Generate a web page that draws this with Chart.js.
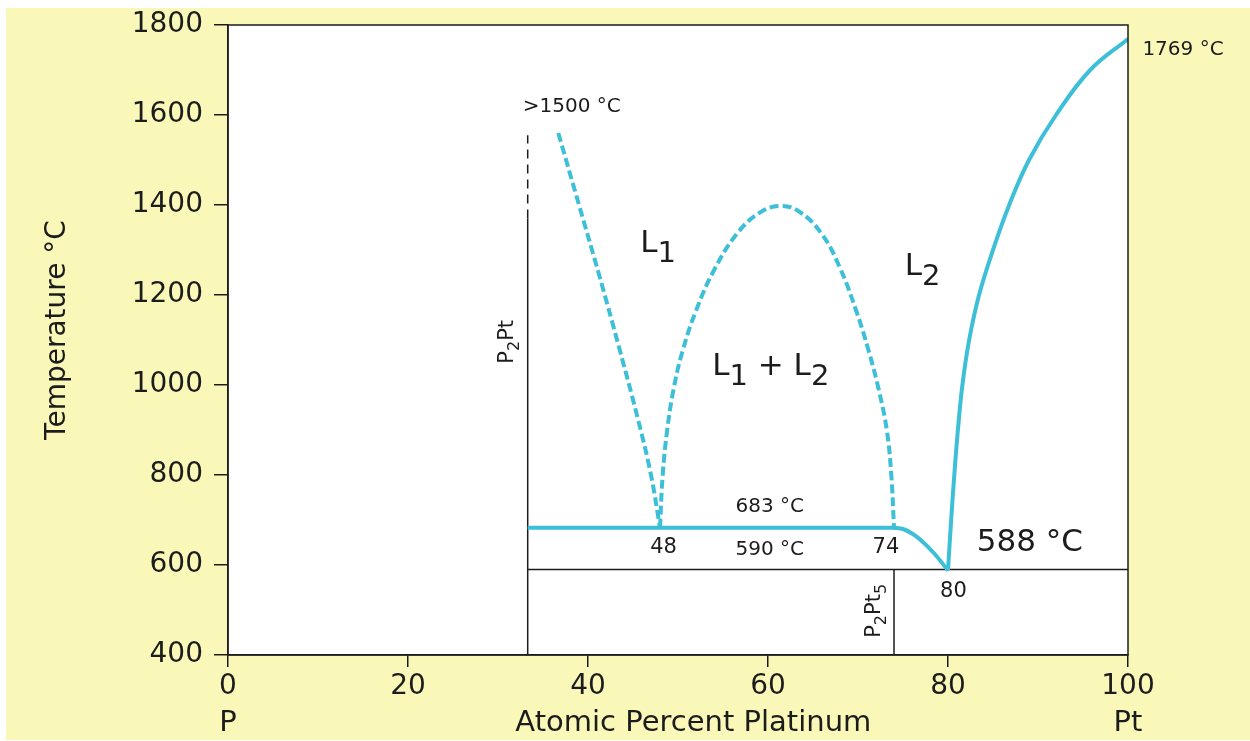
<!DOCTYPE html>
<html>
<head>
<meta charset="utf-8">
<script src="https://cdn.jsdelivr.net/npm/chart.js@4/dist/chart.umd.min.js"></script>
<style>
  html, body { margin: 0; padding: 0; background: #fff; }
  canvas { display: block; }
</style>
</head>
<body>
<canvas id="phaseChart" width="1250" height="741"></canvas>
<script>
// P-Pt phase diagram
const cyan = '#3dbfd8';
const ink = '#1c1c1c';

// liquidus L1 (dashed, falling to the 48 at% point)
const liqL1X = [36.7, 39, 41.3, 43.5, 45.6, 47, 48];
const liqL1T = [1560, 1400, 1240, 1080, 920, 800, 683];

// miscibility gap dome (dashed)
const domeX = [48, 48.3, 48.8, 49.5, 50.5, 52, 54, 56.5, 59, 61.3,
               63.5, 66, 68, 69.8, 71.2, 72.3, 73.2, 73.7, 74];
const domeT = [683, 800, 900, 990, 1075, 1165, 1255, 1335, 1382, 1398,
               1385, 1335, 1260, 1165, 1075, 990, 900, 800, 683];

// monotectic line at 683 °C
const monoX = [33.3, 74];
const monoT = [683, 683];

// L2 liquidus down to the eutectic
const eutX = [74, 75, 76, 77, 78.5, 80];
const eutT = [683, 680, 670, 655, 625, 588];

// Pt-rich liquidus up to the melting point of Pt
const ptX = [80, 80.35, 80.7, 81.1, 81.6, 82.35, 83.45, 85.0, 86.8, 89.0, 92.0, 95.8, 100];
const ptT = [588, 700, 800, 900, 1000, 1100, 1200, 1300, 1400, 1500, 1600, 1700, 1769];

// compound lines and eutectic isotherm
const p2ptX = [33.3, 33.3];
const p2ptT = [400, 1370];
const p2ptDashT = [1370, 1555];
const eutLineX = [33.3, 100];
const eutLineT = [590, 590];
const p2pt5X = [74, 74];
const p2pt5T = [400, 590];

const xMin = 0, xMax = 100, xStep = 20;
const yMin = 400, yMax = 1800, yStep = 200;

function pts(xs, ys) {
    return xs.map((x, i) => ({ x: x, y: ys[i] }));
}

function lineSet(xs, ys, color, width, dash, order, tension) {
    return {
        data: pts(xs, ys),
        borderColor: color,
        borderWidth: width,
        borderDash: dash,
        pointRadius: 0,
        showLine: true,
        fill: false,
        tension: tension || 0,
        order: order
    };
}

const font = "'DejaVu Sans', sans-serif";

// text with subscripts, parts = [[text, isSub], ...]
function drawRich(ctx, parts, x, y, size, subSize, shift, align) {
    let total = 0;
    parts.forEach(p => {
        ctx.font = (p[1] ? subSize : size) + 'px ' + font;
        total += ctx.measureText(p[0]).width;
    });
    let cx = align === 'center' ? x - total / 2 : x;
    ctx.textAlign = 'left';
    ctx.textBaseline = 'alphabetic';
    parts.forEach(p => {
        ctx.font = (p[1] ? subSize : size) + 'px ' + font;
        ctx.fillText(p[0], cx, p[1] ? y + shift : y);
        cx += ctx.measureText(p[0]).width;
    });
}

const decorPlugin = {
    id: 'decor',
    beforeDraw(chart) {
        const ctx = chart.ctx;
        const a = chart.chartArea;
        ctx.save();
        ctx.fillStyle = '#ffffff';
        ctx.fillRect(0, 0, chart.width, chart.height);
        ctx.fillStyle = '#f9f8b9';
        ctx.fillRect(6, 8, chart.width - 6, chart.height - 9);
        ctx.fillStyle = '#ffffff';
        ctx.fillRect(a.left, a.top, a.right - a.left, a.bottom - a.top);
        ctx.restore();
    },
    afterDraw(chart) {
        const ctx = chart.ctx;
        const a = chart.chartArea;
        const xs = chart.scales.x, ys = chart.scales.y;
        const px = v => xs.getPixelForValue(v);
        const py = v => ys.getPixelForValue(v);
        ctx.save();
        ctx.strokeStyle = ink;
        ctx.lineWidth = 1.5;
        ctx.strokeRect(a.left, a.top, a.right - a.left, a.bottom - a.top);

        ctx.fillStyle = ink;
        ctx.textAlign = 'center';
        ctx.textBaseline = 'middle';

        // axis titles
        ctx.font = '29px ' + font;
        ctx.fillText('Atomic Percent Platinum', px(51.7), a.bottom + 68);
        ctx.fillText('P', px(0), a.bottom + 68);
        ctx.fillText('Pt', px(100), a.bottom + 68);
        ctx.save();
        ctx.translate(58, (a.top + a.bottom) / 2 - 10);
        ctx.rotate(-Math.PI / 2);
        ctx.font = '28px ' + font;
        ctx.fillText('Temperature °C', 0, 0);
        ctx.restore();

        // small labels
        ctx.font = '20px ' + font;
        ctx.fillText('>1500 °C', px(38.2), py(1618));
        ctx.fillText('683 °C', px(60.2), py(729));
        ctx.fillText('590 °C', px(60.2), py(633));
        ctx.font = '21px ' + font;
        ctx.fillText('48', px(48.4), py(638));
        ctx.fillText('74', px(73.1), py(638));
        ctx.fillText('80', px(80.6), py(542));
        ctx.textAlign = 'left';
        ctx.font = '20px ' + font;
        ctx.fillText('1769 °C', px(101.6), py(1744));
        ctx.textAlign = 'center';
        ctx.font = '31px ' + font;
        ctx.fillText('588 °C', px(89.1), py(649));

        // phase fields
        drawRich(ctx, [['L', false], ['1', true]], px(45.8), py(1296), 31, 29, 10, 'left');
        drawRich(ctx, [['L', false], ['2', true]], px(75.2), py(1244), 31, 29, 10, 'left');
        drawRich(ctx, [['L', false], ['1', true], [' + L', false], ['2', true]], px(53.8), py(1022), 31, 29, 10, 'left');

        // compound names, rotated
        ctx.save();
        ctx.translate(px(30.8) + 8, py(1096));
        ctx.rotate(-Math.PI / 2);
        drawRich(ctx, [['P', false], ['2', true], ['Pt', false]], 0, 0, 21, 16, 6, 'center');
        ctx.restore();
        ctx.save();
        ctx.translate(px(71.6) + 8, py(498));
        ctx.rotate(-Math.PI / 2);
        drawRich(ctx, [['P', false], ['2', true], ['Pt', false], ['5', true]], 0, 0, 21, 16, 6, 'center');
        ctx.restore();

        ctx.restore();
    }
};

new Chart(document.getElementById('phaseChart'), {
    type: 'scatter',
    data: {
        datasets: [
            lineSet(liqL1X, liqL1T, cyan, 4, [9, 4], 1, 0.4),
            lineSet(domeX, domeT, cyan, 4, [9, 4], 1, 0.4),
            lineSet(monoX, monoT, cyan, 4, [], 1, 0),
            lineSet(eutX, eutT, cyan, 4, [], 1, 0.3),
            lineSet(ptX, ptT, cyan, 4, [], 1, 0.4),
            lineSet(p2ptX, p2ptT, ink, 1.5, [], 2, 0),
            lineSet(p2ptX, p2ptDashT, ink, 1.5, [9, 6], 2, 0),
            lineSet(eutLineX, eutLineT, ink, 1.5, [], 2, 0),
            lineSet(p2pt5X, p2pt5T, ink, 1.5, [], 2, 0)
        ]
    },
    options: {
        responsive: false,
        animation: false,
        events: [],
        layout: { padding: { top: 25, right: 122, left: 0, bottom: 0 } },
        plugins: {
            legend: { display: false },
            tooltip: { enabled: false }
        },
        scales: {
            x: {
                type: 'linear',
                min: xMin,
                max: xMax,
                afterFit: s => { s.height = 86; s.paddingLeft = 0; s.paddingRight = 0; },
                grid: { drawOnChartArea: false, drawTicks: true, tickLength: 12, color: ink, lineWidth: 1.5 },
                border: { display: true, color: ink, width: 1.5 },
                ticks: { stepSize: xStep, color: ink, padding: 3, font: { size: 28, family: font }, maxRotation: 0, callback: v => String(v) }
            },
            y: {
                type: 'linear',
                min: yMin,
                max: yMax,
                afterFit: s => { s.width = 228; s.paddingTop = 0; s.paddingBottom = 0; },
                grid: { drawOnChartArea: false, drawTicks: true, tickLength: 14, color: ink, lineWidth: 1.5 },
                border: { display: true, color: ink, width: 1.5 },
                ticks: { stepSize: yStep, color: ink, padding: 11, font: { size: 28, family: font }, callback: v => String(v) }
            }
        }
    },
    plugins: [decorPlugin]
});
</script>
</body>
</html>
